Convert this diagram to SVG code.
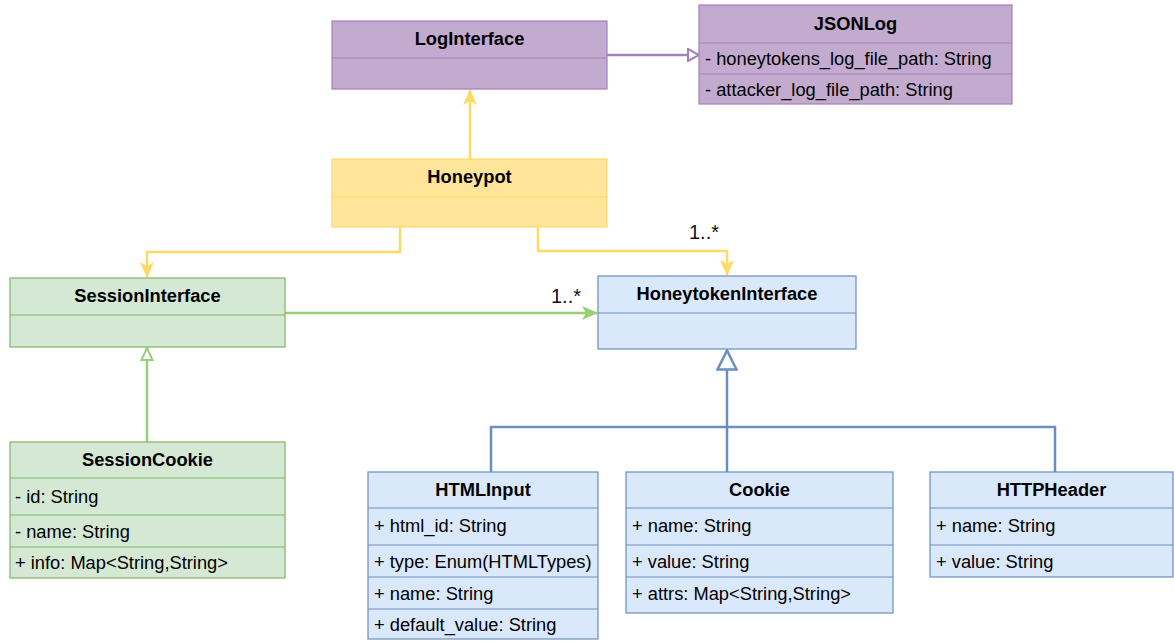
<svg xmlns="http://www.w3.org/2000/svg" width="1174" height="641" viewBox="0 0 1174 641">
  <style>
    text { font-family: "Liberation Sans", Arial, sans-serif; font-size: 18.3px; fill: #000; }
    .title { font-weight: bold; text-anchor: middle; }
    .mult { font-size: 20px; fill: #111; }
    .purple { fill: #C3ABD0; stroke: #A680B8; stroke-width: 1.2; }
    .yellow { fill: #FFE599; stroke: #FFD966; stroke-width: 1.2; }
    .green { fill: #D5E8D4; stroke: #82B366; stroke-width: 1.2; }
    .blue { fill: #DAE8FC; stroke: #6C8EBF; stroke-width: 1.2; }
    .conn { fill: none; stroke-width: 2.5; }
  </style>
  <defs>
    <marker id="tri-purple" markerUnits="userSpaceOnUse" viewBox="0 0 13 14" refX="12" refY="7" markerWidth="13" markerHeight="14" orient="auto">
      <path d="M1,1 L12,7 L1,13 Z" fill="#fff" stroke="#A680B8" stroke-width="2"/>
    </marker>
    <marker id="tri-green" markerUnits="userSpaceOnUse" viewBox="0 0 14 14" refX="13" refY="7" markerWidth="14" markerHeight="14" orient="auto">
      <path d="M1,1.5 L13,7 L1,12.5 Z" fill="#fff" stroke="#97D077" stroke-width="2"/>
    </marker>
    <marker id="tri-blue" markerUnits="userSpaceOnUse" viewBox="0 0 22 22" refX="21" refY="11" markerWidth="22" markerHeight="22" orient="auto">
      <path d="M1.5,1.5 L20.5,11 L1.5,20.5 Z" fill="#fff" stroke="#6C8EBF" stroke-width="2.5"/>
    </marker>
    <marker id="arrow-yellow" markerUnits="userSpaceOnUse" viewBox="0 0 16 14" refX="15" refY="7" markerWidth="16" markerHeight="14" orient="auto">
      <path d="M0,0 L16,7 L0,14 L4,7 Z" fill="#FFD966"/>
    </marker>
    <marker id="arrow-green" markerUnits="userSpaceOnUse" viewBox="0 0 16 14" refX="15" refY="7" markerWidth="16" markerHeight="14" orient="auto">
      <path d="M0,0 L16,7 L0,14 L4,7 Z" fill="#97D077"/>
    </marker>
  </defs>

  <!-- connectors -->
  <g id="connectors">
    <path class="conn" d="M607,55 H699" stroke="#A680B8" marker-end="url(#tri-purple)"/>
    <path class="conn" d="M470,159 V90" stroke="#FFD966" marker-end="url(#arrow-yellow)"/>
    <path class="conn" d="M400,227 V252 H147 V277" stroke="#FFD966" marker-end="url(#arrow-yellow)"/>
    <path class="conn" d="M538,227 V251 H727 V275" stroke="#FFD966" marker-end="url(#arrow-yellow)"/>
    <text class="mult" x="689" y="239">1..*</text>
    <path class="conn" d="M285,313 H597" stroke="#97D077" marker-end="url(#arrow-green)"/>
    <text class="mult" x="551" y="303">1..*</text>
    <path class="conn" d="M147,442 V348" stroke="#97D077" marker-end="url(#tri-green)"/>
    <path class="conn" d="M727,472 V350" stroke="#6C8EBF" marker-end="url(#tri-blue)"/>
    <path class="conn" d="M491,472 V427 H1055 V472" stroke="#6C8EBF"/>
  </g>

  <!-- LogInterface -->
  <g id="LogInterface">
    <rect class="purple" x="332" y="21" width="275" height="68"/>
    <line class="purple" x1="332" y1="58" x2="607" y2="58"/>
    <text class="title" x="469.5" y="45">LogInterface</text>
  </g>

  <!-- JSONLog -->
  <g id="JSONLog">
    <rect class="purple" x="699" y="5" width="313" height="99"/>
    <line class="purple" x1="699" y1="43" x2="1012" y2="43"/>
    <line class="purple" x1="699" y1="74" x2="1012" y2="74"/>
    <text class="title" x="855.5" y="29.5">JSONLog</text>
    <text x="705" y="65">- honeytokens_log_file_path: String</text>
    <text x="705" y="96">- attacker_log_file_path: String</text>
  </g>

  <!-- Honeypot -->
  <g id="Honeypot">
    <rect class="yellow" x="332" y="159" width="275" height="68"/>
    <line class="yellow" x1="332" y1="197" x2="607" y2="197"/>
    <text class="title" x="469.5" y="183">Honeypot</text>
  </g>

  <!-- SessionInterface -->
  <g id="SessionInterface">
    <rect class="green" x="10" y="278" width="275" height="69"/>
    <line class="green" x1="10" y1="315" x2="285" y2="315"/>
    <text class="title" x="147.5" y="302">SessionInterface</text>
  </g>

  <!-- HoneytokenInterface -->
  <g id="HoneytokenInterface">
    <rect class="blue" x="598" y="276" width="258" height="73"/>
    <line class="blue" x1="598" y1="313" x2="856" y2="313"/>
    <text class="title" x="727" y="300">HoneytokenInterface</text>
  </g>

  <!-- SessionCookie -->
  <g id="SessionCookie">
    <rect class="green" x="10" y="442" width="275" height="136"/>
    <line class="green" x1="10" y1="478" x2="285" y2="478"/>
    <line class="green" x1="10" y1="515" x2="285" y2="515"/>
    <line class="green" x1="10" y1="547" x2="285" y2="547"/>
    <text class="title" x="147.5" y="466">SessionCookie</text>
    <text x="15" y="503">- id: String</text>
    <text x="15" y="538">- name: String</text>
    <text x="15" y="569">+ info: Map&lt;String,String&gt;</text>
  </g>

  <!-- HTMLInput -->
  <g id="HTMLInput">
    <rect class="blue" x="368" y="472" width="230" height="167"/>
    <line class="blue" x1="368" y1="508" x2="598" y2="508"/>
    <line class="blue" x1="368" y1="545" x2="598" y2="545"/>
    <line class="blue" x1="368" y1="577" x2="598" y2="577"/>
    <line class="blue" x1="368" y1="609" x2="598" y2="609"/>
    <text class="title" x="483" y="496">HTMLInput</text>
    <text x="374" y="532">+ html_id: String</text>
    <text x="374" y="568">+ type: Enum(HTMLTypes)</text>
    <text x="374" y="600">+ name: String</text>
    <text x="374" y="631">+ default_value: String</text>
  </g>

  <!-- Cookie -->
  <g id="Cookie">
    <rect class="blue" x="626" y="472" width="267" height="141"/>
    <line class="blue" x1="626" y1="508" x2="893" y2="508"/>
    <line class="blue" x1="626" y1="545" x2="893" y2="545"/>
    <line class="blue" x1="626" y1="577" x2="893" y2="577"/>
    <text class="title" x="759.5" y="496">Cookie</text>
    <text x="632" y="532">+ name: String</text>
    <text x="632" y="568">+ value: String</text>
    <text x="632" y="600">+ attrs: Map&lt;String,String&gt;</text>
  </g>

  <!-- HTTPHeader -->
  <g id="HTTPHeader">
    <rect class="blue" x="930" y="472" width="243" height="105"/>
    <line class="blue" x1="930" y1="508" x2="1173" y2="508"/>
    <line class="blue" x1="930" y1="545" x2="1173" y2="545"/>
    <text class="title" x="1051.5" y="496">HTTPHeader</text>
    <text x="936" y="532">+ name: String</text>
    <text x="936" y="568">+ value: String</text>
  </g>
</svg>
